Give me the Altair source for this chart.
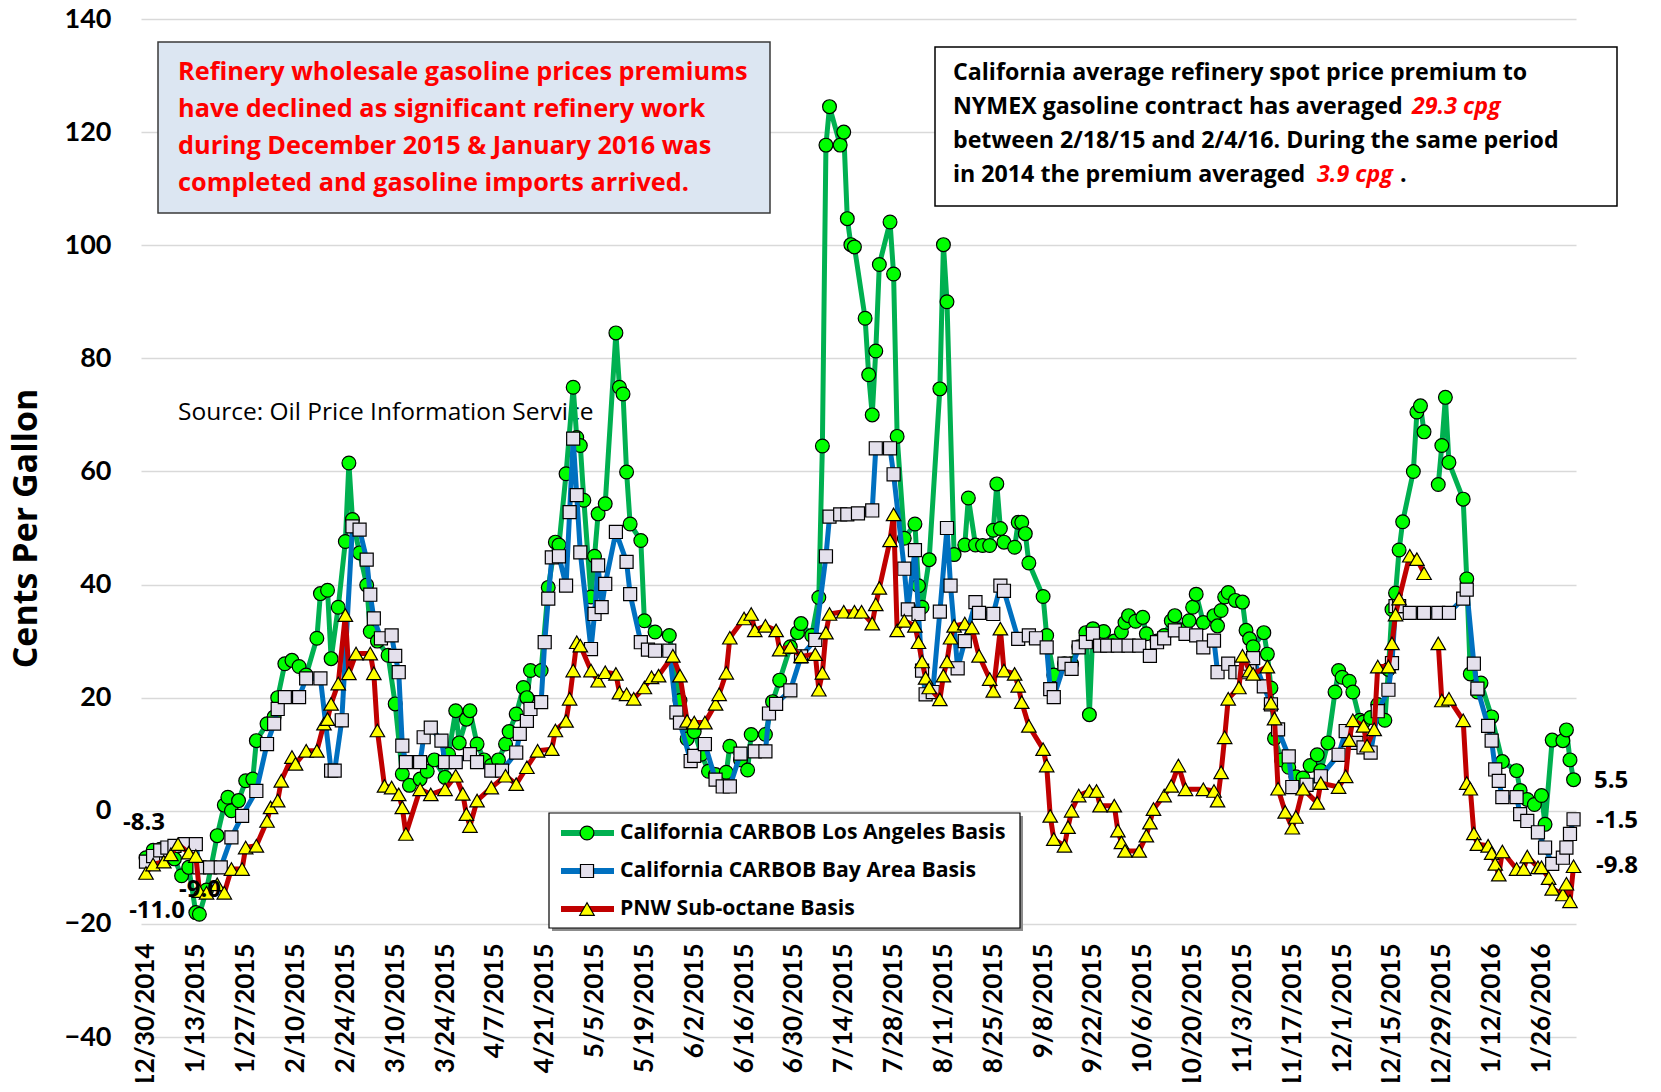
import altair as alt
import pandas as pd

# ---------------- data (day offsets from 12/30/2014, values in cents/gal) -------------
la_day = [0, 2, 4, 6, 8, 10, 12, 14, 15, 17, 20, 22, 23, 24, 26, 28, 30, 31, 34, 36, 37, 39, 41, 43, 45,
          48, 49, 51, 52, 54, 56, 57, 58, 60, 62, 63, 65, 68, 70, 72, 74, 77, 79, 81, 84, 85, 87, 88, 90,
          91, 93, 95, 97, 99, 101, 102, 104, 106, 107, 108, 111, 113, 115, 116, 118, 120, 121, 122, 123,
          125, 126, 127, 129, 132, 133, 134, 135, 136, 139, 140, 143, 147, 150, 152, 154, 156, 158, 160,
          163, 164, 167, 169, 170, 174, 176, 178, 181, 183, 184, 187, 189, 190, 191, 192, 195, 196, 197,
          198, 199, 202, 203, 204, 205, 206, 209, 210, 211, 213, 216, 217, 218, 220, 223, 224, 225, 227,
          230, 231, 233, 235, 237, 238, 239, 240, 241, 244, 245, 246, 247, 248, 252, 253, 255, 258, 260,
          262, 264, 265, 266, 269, 272, 274, 275, 276, 278, 280, 281, 284, 286, 288, 289, 291, 293, 294,
          295, 297, 300, 301, 302, 303, 304, 306, 308, 309, 310, 311, 314, 315, 316, 317, 319, 321, 323,
          325, 327, 329, 330, 332, 334, 335, 336, 338, 339, 341, 342, 344, 346, 348, 349, 350, 351, 352,
          353, 356, 357, 358, 359, 363, 364, 365, 366, 370, 371, 372, 374, 375, 378, 381, 385, 386, 388,
          390, 392, 393, 395, 398, 399, 400, 401]
la_val = [-8.3, -7, -6.8, -7.5, -8.5, -11.5, -10, -18, -18.3, -14, -4.4, 1, 2.4, 0, 1.8, 5.3, 5.6, 12.4,
          15.4, 16.6, 20, 26, 26.6, 25.5, 24, 30.5, 38.4, 39, 26.9, 36, 47.6, 61.5, 51.5, 45.6, 39.9, 31.7,
          30, 27.5, 18.9, 6.5, 4.5, 5.6, 7, 9, 5.9, 10, 17.7, 12, 16.2, 17.7, 11.8, 9, 8, 9, 11.8, 14, 17.1,
          21.8, 20, 24.8, 24.8, 39.5, 47.5, 47, 59.6, 74.9, 66, 64.6, 54.9, 37.8, 45, 52.5, 54.3, 84.5,
          74.9, 73.7, 59.9, 50.7, 47.8, 33.6, 31.6, 31, 19.5, 12.7, 14, 10, 7, 6.4, 6.8, 11.4, 9, 7.2,
          13.5, 13.5, 19.3, 23.1, 29, 31.5, 33.1, 31, 37.7, 64.5, 117.7, 124.5, 117.7, 120, 104.7, 100.1,
          99.7, 87.1, 77.1, 70, 81.3, 96.6, 104.1, 94.9, 66.2, 48.2, 50.7, 39.8, 36, 44.4, 74.6, 100.1, 90,
          45.3, 47, 55.3, 47, 46.9, 46.9, 49.6, 57.8, 49.9, 47.5, 46.6, 51, 51, 49, 43.8, 37.9, 31, 24, 26,
          26, 29, 31.5, 17, 32.2, 31.7, 30, 31.6, 33.3, 34.5, 33.5, 34.2, 31.3, 30, 31, 33.6, 34.5, 32,
          33.6, 36, 38.3, 33.3, 34.5, 32.7, 35.4, 37.8, 38.6, 37.2, 36.9, 31.9, 30.4, 29, 31.5, 27.7, 21.7,
          12.8, 9, 7.7, 6, 5.8, 8, 9.9, 7.1, 12, 21, 24.8, 23.6, 22.9, 21, 16, 15.7, 16.5, 18.8, 16, 25,
          35.6, 38.5, 46.1, 51.1, 60, 70.5, 71.6, 67, 57.7, 64.6, 73.1, 61.6, 55.1, 41, 24.2, 21, 22.6,
          16.6, 8.7, 7.1, 3.6, 2, 1.1, 2.7, -2.4, 12.5, 12.4, 14.3, 9, 5.5]

bay_day = [0, 2, 4, 6, 8, 11, 14, 15, 18, 21, 24, 27, 31, 34, 36, 37, 39, 43, 45, 49, 52, 53, 55, 58, 60,
           62, 63, 64, 66, 69, 70, 71, 72, 73, 77, 78, 80, 83, 84, 87, 91, 93, 97, 100, 104, 105, 107,
           108, 111, 112, 113, 114, 116, 118, 119, 120, 121, 122, 125, 126, 127, 128, 129, 132, 135, 136,
           139, 141, 143, 147, 149, 150, 153, 154, 157, 160, 162, 164, 167, 171, 174, 175, 177, 181, 184,
           188, 191, 192, 195, 197, 200, 204, 205, 209, 210, 213, 214, 216, 217, 218, 219, 221, 223, 225,
           226, 228, 230, 233, 234, 238, 240, 241, 245, 248, 250, 253, 254, 255, 258, 260, 262, 264, 266,
           268, 270, 273, 276, 279, 282, 284, 286, 289, 292, 295, 297, 300, 301, 304, 306, 308, 310, 311,
           314, 316, 318, 321, 322, 326, 330, 335, 337, 340, 342, 344, 346, 349, 350, 351, 352, 355, 359,
           363, 366, 370, 371, 373, 374, 377, 378, 379, 380, 381, 385, 386, 388, 391, 393, 395, 398, 399,
           400, 401]
bay_val = [-9.0, -8, -7, -6.5, -6.2, -5.9, -5.9, -10, -10, -10, -4.7, -0.9, 3.5, 11.8, 15.4, 18, 20.1,
           20.1, 23.4, 23.4, 7.1, 7.1, 16, 50.3, 49.7, 44.4, 38.2, 34, 30.5, 31, 27.4, 24.5, 11.5, 8.6,
           8.6, 13, 14.7, 12.4, 8.6, 8.6, 10, 8.6, 7.1, 7.1, 10.3, 13.6, 15.9, 18, 19.2, 29.8, 37.5, 44.8,
           45, 39.8, 52.8, 65.8, 55.8, 45.7, 28.6, 34.8, 43.4, 36, 40.1, 49.3, 44, 38.3, 29.8, 28.5, 28.3,
           28.3, 17.4, 15.6, 8.8, 9.7, 11.8, 5.5, 4.3, 4.3, 10.1, 10.5, 10.5, 17.2, 18.9, 21.3, 27.3, 30.2,
           45, 52, 52.4, 52.4, 52.6, 53.1, 64.1, 64.1, 59.5, 42.8, 35.6, 46.1, 34.8, 24.8, 20.6, 21, 35.2,
           50, 39.8, 25.2, 30, 36.9, 35, 34.8, 39.8, 38.9, 30.4, 31, 30.5, 28.9, 21.5, 20.1, 26, 25.1, 28.9,
           29.8, 31.3, 29.2, 29.2, 29.2, 29.2, 29.2, 27.4, 29.8, 30.5, 31.9, 31.3, 31, 28.9, 30.1, 24.5, 26,
           24.5, 24.5, 26, 27, 22, 18.8, 14.4, 9.6, 4.2, 4.6, 6.1, 9.9, 14.1, 12, 11.2, 10.3, 17.6, 21.4,
           26.1, 36.2, 36.2, 35, 35, 35, 35, 37.5, 39.1, 26, 21.6, 15, 12.4, 7.3, 5.3, 2.4, 2.4, -0.6, -1.8,
           -3.8, -6.5, -9.4, -8.3, -6.5, -4.1, -1.5]

pnw_day = [0, 2, 5, 7, 9, 12, 14, 15, 17, 20, 22, 24, 27, 28, 31, 34, 35, 37, 38, 41, 42, 45, 48, 50, 51,
           52, 54, 56, 57, 59, 63, 64, 65, 67, 69, 71, 72, 73, 77, 80, 84, 87, 89, 90, 91, 93, 97, 101, 104,
           107, 110, 114, 115, 118, 119, 120, 121, 122, 125, 127, 129, 132, 133, 135, 137, 140, 142, 144,
           148, 150, 152, 154, 157, 160, 161, 163, 164, 168, 170, 171, 174, 177, 178, 181, 184, 188, 189,
           190, 191, 192, 196, 199, 201, 204, 205, 206, 209, 210, 211, 213, 216, 217, 218, 219, 220, 223,
           224, 225, 226, 227, 230, 232, 234, 237, 238, 240, 241, 244, 245, 246, 248, 252, 253, 254, 255,
           258, 259, 260, 262, 265, 267, 268, 272, 273, 274, 275, 279, 281, 282, 283, 286, 288, 290, 292,
           297, 300, 301, 302, 303, 304, 307, 308, 310, 311, 315, 316, 317, 318, 320, 322, 323, 325, 329,
           330, 335, 337, 338, 339, 342, 343, 345, 346, 349, 350, 351, 352, 355, 357, 359, 363, 364, 366,
           370, 371, 372, 373, 374, 377, 378, 379, 380, 381, 385, 387, 388, 391, 392, 394, 395, 398, 399,
           400, 401]
pnw_val = [-11.0, -9.5, -9, -7.7, -5.9, -7.4, -8, -14.2, -14.5, -13, -14.5, -10.3, -10.3, -6.5, -6.2,
           -1.8, 0.6, 1.8, 5.3, 9.5, 8.3, 10.6, 10.6, 15.4, 16.2, 18.9, 22.5, 34.6, 24.3, 27.8, 27.8, 24.3,
           14.2, 4.4, 4.1, 2.9, 0.6, -4.1, 3.8, 2.9, 3.8, 6.2, 3, -0.6, -2.7, 1.8, 4.1, 6.2, 4.7, 7.7, 10.6,
           10.9, 14.2, 15.9, 19.8, 24.8, 29.8, 29.2, 24.8, 23, 24.5, 24.2, 20.9, 20.6, 19.8, 21.8, 23.6,
           23.9, 27.4, 23.9, 15.9, 15.6, 15.6, 18.9, 20.6, 24.4, 30.6, 34, 34.8, 31.9, 32.7, 31.9, 28.5, 29,
           27.3, 27.7, 21.4, 24.4, 31.5, 34.8, 35.2, 35.2, 35.2, 33.1, 36.5, 39.4, 47.8, 52.4, 31.9, 33.6,
           32.7, 29.8, 26.4, 23.5, 21.8, 19.7, 23.9, 26.4, 30.6, 32.7, 33.1, 32.4, 27.4, 23.3, 21.2, 32.2,
           24.8, 24.2, 22.1, 19.2, 15, 10.9, 8, -0.9, -5, -6.2, -2.9, 0, 2.7, 3.5, 3.5, 0.9, 0.9, -3.5,
           -5.6, -7.1, -7.1, -4.4, -2.1, 0.3, 2.7, 4.4, 8, 3.8, 3.8, 3.5, 1.8, 6.8, 13, 19.8, 21.8, 27.4,
           24.8, 24.2, 25.5, 19.1, 16.3, 3.9, -0.2, -3, -1.1, 3.9, 1.4, 4.9, 4.2, 6.1, 12.5, 16, 15, 11.5,
           14.4, 25.5, 25.5, 29.6, 34.7, 37.5, 45.1, 44.5, 42, 29.6, 19.5, 19.8, 16, 4.9, 3.9, -4, -5.9,
           -6.2, -7.5, -9.4, -11.3, -7.2, -10.3, -10.3, -8.1, -10, -10, -11.9, -13.8, -14.8, -12.9, -16,
           -9.8]

la_breaks = [363]
bay_breaks = []
pnw_breaks = [363]

x_tick_labels = ["12/30/2014", "1/13/2015", "1/27/2015", "2/10/2015", "2/24/2015", "3/10/2015",
                 "3/24/2015", "4/7/2015", "4/21/2015", "5/5/2015", "5/19/2015", "6/2/2015",
                 "6/16/2015", "6/30/2015", "7/14/2015", "7/28/2015", "8/11/2015", "8/25/2015",
                 "9/8/2015", "9/22/2015", "10/6/2015", "10/20/2015", "11/3/2015", "11/17/2015",
                 "12/1/2015", "12/15/2015", "12/29/2015", "1/12/2016", "1/26/2016"]
y_ticks = [-40, -20, 0, 20, 40, 60, 80, 100, 120, 140]

series_names = ["California CARBOB Los Angeles Basis", "California CARBOB Bay Area Basis",
                "PNW Sub-octane Basis"]

# ---------------- styling ----------------
AXFONT = "Lato"
FONT = "Open Sans"
LINE_COLORS = ["#00B050", "#0070C0", "#C00000"]
FILL_COLORS = ["#00FF00", "#E4E0EC", "#FFFF00"]
SHAPES = ["circle", "square", "triangle-up"]
SIZES = [190, 170, 210]

W, H = 1435, 1018
BASE = pd.Timestamp("2014-12-30", tz="UTC")
DAY_PX = 3.56
ms = lambda ts: int(ts.value // 10**6)
t0 = ms(BASE - pd.Timedelta(days=1.4))
t1 = ms(BASE - pd.Timedelta(days=1.4) + pd.Timedelta(days=W / DAY_PX))
tick_ms = [ms(pd.Timestamp(pd.to_datetime(s, format="%m/%d/%Y"), tz="UTC")) for s in x_tick_labels]


def frame(days, vals, name, breaks):
    assert len(days) == len(vals), name
    d = pd.DataFrame({"day": days, "value": vals})
    d["date"] = (pd.Timestamp("2014-12-30") + pd.to_timedelta(d["day"], unit="D")).dt.strftime("%Y-%m-%d")
    d["seg"] = [sum(1 for b in breaks if day >= b) for day in days]
    d["series"] = name
    return d


frames = [frame(la_day, la_val, series_names[0], la_breaks),
          frame(bay_day, bay_val, series_names[1], bay_breaks),
          frame(pnw_day, pnw_val, series_names[2], pnw_breaks)]

x_enc = alt.X("date:T",
              scale=alt.Scale(type="utc", domain=[t0, t1]),
              axis=alt.Axis(values=tick_ms,
                            labelExpr="utcFormat(datum.value, '%-m/%-d/%Y')",
                            labelAngle=270, labelAlign="right", labelBaseline="middle",
                            labelFont=AXFONT, labelFontSize=26, labelFontWeight="bold",
                            labelColor="black", labelPadding=20, ticks=False, domain=False,
                            grid=False, offset=-114, title=None, labelOverlap=False,
                            labelFlush=False, labelBound=False))
y_enc = alt.Y("value:Q",
              scale=alt.Scale(domain=[-40, 140], nice=False, zero=False),
              axis=alt.Axis(values=y_ticks, labelFont=AXFONT, labelFontSize=27,
                            labelFontWeight="bold", labelColor="black", labelPadding=30,
                            ticks=False, domain=False, grid=True, gridColor="#D9D9D9",
                            gridWidth=1.5, title="Cents Per Gallon", titleFont=FONT,
                            titleFontSize=34, titleFontWeight="bold", titleColor="black",
                            titleAngle=270, titleX=-115, titleY=H / 2, titleAlign="center",
                            titleBaseline="middle"))

layers = []


def one():
    return pd.DataFrame({"k": [0]})


def txt(s, x, y, size, color="black", weight="bold", style="normal", align="left"):
    return alt.Chart(pd.DataFrame({"t": [s]})).mark_text(
        align=align, baseline="middle", font=FONT, fontSize=size, fontWeight=weight,
        fontStyle=style, color=color).encode(x=alt.value(x), y=alt.value(y), text="t:N")


# source text sits behind the data
layers.append(txt("Source: Oil Price Information Service", 37, 394, 24.5, weight="normal"))

for i, d in enumerate(frames):
    base = alt.Chart(d)
    layers.append(base.mark_line(color=LINE_COLORS[i], strokeWidth=5, strokeJoin="round").encode(
        x=x_enc, y=y_enc, detail="seg:N"))
    layers.append(base.mark_point(shape=SHAPES[i], filled=True, fill=FILL_COLORS[i], stroke="black",
                                  strokeWidth=1.2, size=SIZES[i], opacity=1).encode(x=x_enc, y=y_enc))

# start / end value labels
layers.append(txt("-8.3", 3, 804, 24, align="center"))
layers.append(txt("-9.0", 59, 871, 24, align="center"))
layers.append(txt("-11.0", 16, 892, 24, align="center"))
layers.append(txt("5.5", 1453, 762, 24))
layers.append(txt("-1.5", 1455, 802, 24))
layers.append(txt("-9.8", 1455, 847, 24))

# left annotation box
layers.append(alt.Chart(one()).mark_rect(fill="#DCE6F2", stroke="#3A3A3A", strokeWidth=1.5).encode(
    x=alt.value(17), x2=alt.value(629), y=alt.value(23), y2=alt.value(194)))
left_lines = ["Refinery wholesale gasoline prices premiums",
              "have declined as significant refinery work",
              "during December 2015 & January 2016 was",
              "completed and gasoline imports arrived."]
for j, s in enumerate(left_lines):
    layers.append(txt(s, 37, 53 + 37 * j, 25.3, color="#FF0000"))

# right annotation box
RF = 23.2
layers.append(alt.Chart(one()).mark_rect(fill="white", stroke="black", strokeWidth=1.5).encode(
    x=alt.value(794), x2=alt.value(1476), y=alt.value(28), y2=alt.value(187)))
layers.append(txt("California average refinery spot price premium to", 812, 54, RF))
layers.append(txt("NYMEX gasoline contract has averaged", 812, 88, RF))
layers.append(txt("29.3 cpg", 1271, 88, RF, color="#FF0000", style="italic"))
layers.append(txt("between 2/18/15 and 2/4/16. During the same period", 812, 122, RF))
layers.append(txt("in 2014 the premium averaged", 812, 156, RF))
layers.append(txt("3.9 cpg", 1176, 156, RF, color="#FF0000", style="italic"))
layers.append(txt(".", 1259, 156, RF))

# legend
layers.append(alt.Chart(one()).mark_rect(fill="#8C8C8C").encode(
    x=alt.value(411), x2=alt.value(882), y=alt.value(797), y2=alt.value(912)))
layers.append(alt.Chart(one()).mark_rect(fill="white", stroke="black", strokeWidth=1.2).encode(
    x=alt.value(408), x2=alt.value(879), y=alt.value(794), y2=alt.value(909)))
for i, name in enumerate(series_names):
    ly = 814 + 38 * i
    layers.append(alt.Chart(one()).mark_rule(color=LINE_COLORS[i], strokeWidth=6).encode(
        x=alt.value(420), x2=alt.value(473), y=alt.value(ly)))
    layers.append(alt.Chart(one()).mark_point(shape=SHAPES[i], filled=True, fill=FILL_COLORS[i],
                                              stroke="black", strokeWidth=1.2, size=SIZES[i],
                                              opacity=1).encode(x=alt.value(446), y=alt.value(ly)))
    layers.append(txt(name, 479, ly, 21.2))

chart = alt.layer(*layers).properties(
    width=W, height=H,
    autosize=alt.AutoSizeParams(type="none"),
    padding={"left": 133, "top": 11, "right": 77, "bottom": 45},
    background="white",
).configure_view(stroke="transparent")

chart.save("out.html", embed_options={"renderer": "svg", "actions": False})
